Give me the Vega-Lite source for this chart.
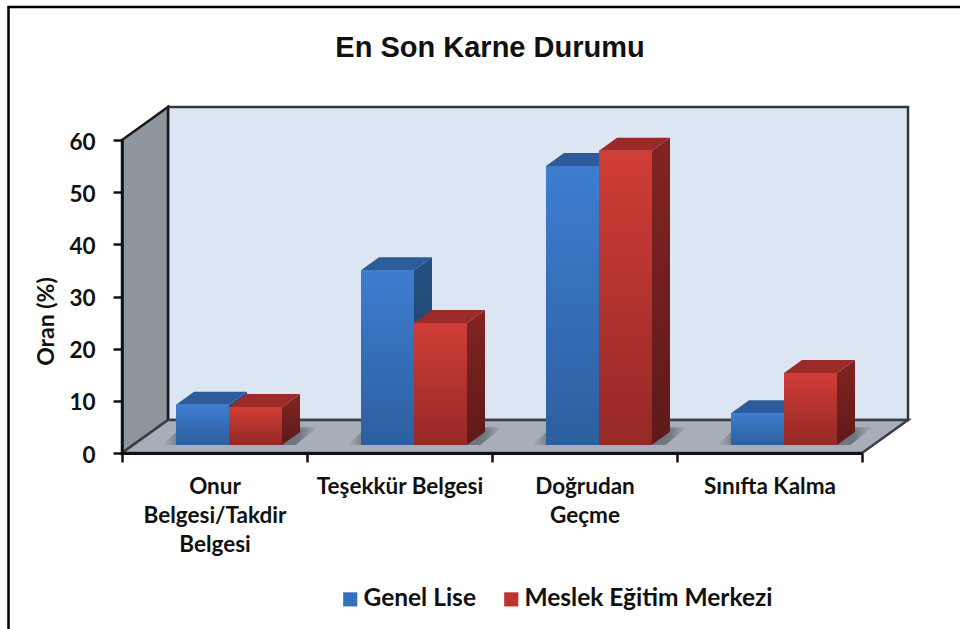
{
"$schema":"https://vega.github.io/schema/vega-lite/v6.json",
"width":740,"height":313,
"autosize":{"type":"none"},
"padding":{"left":122,"top":140,"right":98,"bottom":176},
"background":"#ffffff",
"title":{"text":"En Son Karne Durumu","font":"Liberation Sans","fontWeight":"bold","fontSize":29,"color":"#111111","anchor":"middle","offset":-61,"dx":-2},
"config":{"view":{"stroke":null}},
"datasets":{
"oranlar":[
{"Durum":"Onur Belgesi/Takdir Belgesi","Seri":"Genel Lise","Oran":7.7,"Kod":"a1"},
{"Durum":"Onur Belgesi/Takdir Belgesi","Seri":"Meslek Eğitim Merkezi","Oran":7.3,"Kod":"a2"},
{"Durum":"Teşekkür Belgesi","Seri":"Genel Lise","Oran":33.5,"Kod":"b1"},
{"Durum":"Teşekkür Belgesi","Seri":"Meslek Eğitim Merkezi","Oran":23.4,"Kod":"b2"},
{"Durum":"Doğrudan Geçme","Seri":"Genel Lise","Oran":53.5,"Kod":"c1"},
{"Durum":"Doğrudan Geçme","Seri":"Meslek Eğitim Merkezi","Oran":56.4,"Kod":"c2"},
{"Durum":"Sınıfta Kalma","Seri":"Genel Lise","Oran":6.1,"Kod":"d1"},
{"Durum":"Sınıfta Kalma","Seri":"Meslek Eğitim Merkezi","Oran":13.8,"Kod":"d2"}
]},
"data":{"name":"oranlar"},
"encoding":{
  "x":{"field":"Durum","type":"nominal","sort":["Onur Belgesi/Takdir Belgesi","Teşekkür Belgesi","Doğrudan Geçme","Sınıfta Kalma"],"scale":{"domain":["Onur Belgesi/Takdir Belgesi","Teşekkür Belgesi","Doğrudan Geçme","Sınıfta Kalma"],"paddingInner":0,"paddingOuter":0},"axis":{"title":null,"zindex":1,"labelAngle":0,"labelFont":"Lato","labelFontWeight":"bold","labelFontSize":22.5,"labelColor":"#111111","labelPadding":13,"labelLineHeight":29,"labelLimit":0,"tickBand":"extent","tickColor":"#111111","tickWidth":2.5,"tickSize":9,"domainColor":"#111111","domainWidth":3,"labelExpr":"datum.value == 'Onur Belgesi/Takdir Belgesi' ? ['Onur','Belgesi/Takdir','Belgesi'] : datum.value == 'Doğrudan Geçme' ? ['Doğrudan','Geçme'] : datum.value"}}
},
"layer":[
{"data":{"values":[{"Yuzey":"arka","Durum":"Onur Belgesi/Takdir Belgesi"},{"Yuzey":"sol","Durum":"Onur Belgesi/Takdir Belgesi"},{"Yuzey":"taban","Durum":"Onur Belgesi/Takdir Belgesi"},{"Yuzey":"cerceve","Durum":"Onur Belgesi/Takdir Belgesi"}]},
 "mark":{"type":"point","filled":true,"size":4,"opacity":1,"strokeWidth":2.5},
 "encoding":{
  "y":{"datum":0,"type":"quantitative","scale":{"domain":[0,60],"nice":false},"axis":{"title":"Oran (%)","zindex":1,"titleFont":"Lato","titleFontWeight":"bold","titleFontSize":23,"titleColor":"#111111","titlePadding":10,"titleY":181,"values":[0,10,20,30,40,50,60],"grid":false,"labelFont":"Lato","labelFontWeight":"bold","labelFontSize":22.5,"labelColor":"#111111","labelPadding":18,"labelOffset":2,"tickColor":"#111111","tickWidth":2.5,"tickSize":9,"domainColor":"#111111","domainWidth":2.5}},
  "shape":{"field":"Yuzey","type":"nominal","legend":null,"scale":{"domain":["cerceve","arka","sol","taban"],"range":["M-206,176L-206,-446L746,-446","M-46.5,-346L693.5,-346L693.5,-33L-46.5,-33Z","M-92.5,-313L-46.5,-346L-46.5,-33L-92.5,0Z","M-92.5,0L-46.5,-33L693.5,-33L647.5,0Z"]}},
  "fill":{"field":"Yuzey","type":"nominal","legend":null,"scale":{"domain":["cerceve","arka","sol","taban"],"range":["transparent","#dce6f2","#8e959d","#a7aeb9"]}},
  "stroke":{"field":"Yuzey","type":"nominal","legend":null,"scale":{"domain":["cerceve","arka","sol","taban"],"range":["#000000","#333840","#1a1a1a","#3a3f48"]}}
 }},
{"transform":[{"filter":"datum.Seri == 'Genel Lise'"}],
 "mark":{"type":"point","size":4,"opacity":1,"strokeWidth":0,"shape":"M-52,0L-36,-15L103,-18L81,0Z","filled":true,"fill":{"x1":0,"y1":0,"x2":1,"y2":0,"gradient":"linear","stops":[{"offset":0,"color":"#a7aeb9"},{"offset":0.12,"color":"#70757e"},{"offset":0.88,"color":"#70757e"},{"offset":1,"color":"#a7aeb9"}]}},
 "encoding":{
  "y":{"datum":0,"type":"quantitative","scale":{"domain":[0,60],"nice":false,"range":[305,-8]},"axis":null}
 }},
{"transform":[{"filter":"datum.Seri == 'Genel Lise'"}],
 "mark":{"type":"point","size":4,"opacity":1,"strokeWidth":0,"filled":true,"fill":{"x1":0,"y1":0,"x2":0,"y2":1,"gradient":"linear","stops":[{"offset":0,"color":"#25507f"},{"offset":1,"color":"#1c3f6b"}]}},
 "encoding":{
  "xOffset":{"field":"Seri","type":"nominal","scale":{"domain":["Genel Lise","Meslek Eğitim Merkezi"],"range":[54,160],"paddingInner":0,"paddingOuter":0}},
  "y":{"field":"Oran","type":"quantitative","scale":{"domain":[0,60],"nice":false,"range":[305,-8]},"axis":null},
  "shape":{"field":"Kod","type":"nominal","legend":null,"scale":{"domain":["a1","b1","c1","d1"],"range":[
   "M53,0L71,-13L71,27L53,40Z","M53,0L71,-13L71,162L53,175Z","M53,0L71,-13L71,266L53,279Z","M53,0L71,-13L71,19L53,32Z"]}}
 }},
{"transform":[{"filter":"datum.Seri == 'Genel Lise'"}],
 "mark":{"type":"point","size":4,"opacity":1,"strokeWidth":0,"filled":true,"fill":"#2c5c99","shape":"M0,0L18,-13L71,-13L53,0Z"},
 "encoding":{
  "xOffset":{"field":"Seri","type":"nominal","scale":{"domain":["Genel Lise","Meslek Eğitim Merkezi"],"range":[54,160],"paddingInner":0,"paddingOuter":0}},
  "y":{"field":"Oran","type":"quantitative","scale":{"domain":[0,60],"nice":false,"range":[305,-8]},"axis":null}
 }},
{"transform":[{"filter":"datum.Seri != 'Genel Lise'"}],
 "mark":{"type":"point","size":4,"opacity":1,"strokeWidth":0,"filled":true,"fill":{"x1":0,"y1":0,"x2":0,"y2":1,"gradient":"linear","stops":[{"offset":0,"color":"#822422"},{"offset":1,"color":"#5e1a19"}]}},
 "encoding":{
  "xOffset":{"field":"Seri","type":"nominal","scale":{"domain":["Genel Lise","Meslek Eğitim Merkezi"],"range":[54,160],"paddingInner":0,"paddingOuter":0}},
  "y":{"field":"Oran","type":"quantitative","scale":{"domain":[0,60],"nice":false,"range":[305,-8]},"axis":null},
  "shape":{"field":"Kod","type":"nominal","legend":null,"scale":{"domain":["a2","b2","c2","d2"],"range":[
   "M0,0L18,-13L18,25L0,38Z","M0,0L18,-13L18,109L0,122Z","M0,0L18,-13L18,281L0,294Z","M0,0L18,-13L18,59L0,72Z"]}}
 }},
{"transform":[{"filter":"datum.Seri != 'Genel Lise'"}],
 "mark":{"type":"point","size":4,"opacity":1,"strokeWidth":0,"filled":true,"fill":"#9a2b28","shape":"M-53,0L-35,-13L18,-13L0,0Z"},
 "encoding":{
  "xOffset":{"field":"Seri","type":"nominal","scale":{"domain":["Genel Lise","Meslek Eğitim Merkezi"],"range":[54,160],"paddingInner":0,"paddingOuter":0}},
  "y":{"field":"Oran","type":"quantitative","scale":{"domain":[0,60],"nice":false,"range":[305,-8]},"axis":null}
 }},
{"mark":{"type":"bar","opacity":1},
 "encoding":{
  "xOffset":{"field":"Seri","type":"nominal","scale":{"domain":["Genel Lise","Meslek Eğitim Merkezi"],"range":[54,160],"paddingInner":0,"paddingOuter":0}},
  "y":{"field":"Oran","type":"quantitative","scale":{"domain":[0,60],"nice":false,"range":[305,-8]},"axis":null},
  "fill":{"field":"Seri","type":"nominal","title":null,"scale":{"domain":["Genel Lise","Meslek Eğitim Merkezi"],"range":["#3670bd","#bf3431"]},
   "legend":{"orient":"none","legendX":216,"legendY":447,"direction":"horizontal","symbolType":"square","symbolSize":200,"symbolStrokeWidth":0,"labelFont":"Lato","labelFontWeight":"bold","labelFontSize":24.5,"labelColor":"#111111","labelLimit":0,"columnPadding":23,"labelOffset":1}}
 }},
{"transform":[{"filter":"datum.Seri == 'Genel Lise'"}],
 "mark":{"type":"bar","opacity":1,"fill":{"x1":0,"y1":0,"x2":0,"y2":1,"gradient":"linear","stops":[{"offset":0,"color":"#3d7dd0"},{"offset":1,"color":"#2d5f9f"}]}},
 "encoding":{
  "xOffset":{"field":"Seri","type":"nominal","scale":{"domain":["Genel Lise","Meslek Eğitim Merkezi"],"range":[54,160],"paddingInner":0,"paddingOuter":0}},
  "y":{"field":"Oran","type":"quantitative","scale":{"domain":[0,60],"nice":false,"range":[305,-8]},"axis":null}
 }},
{"transform":[{"filter":"datum.Seri != 'Genel Lise'"}],
 "mark":{"type":"bar","opacity":1,"fill":{"x1":0,"y1":0,"x2":0,"y2":1,"gradient":"linear","stops":[{"offset":0,"color":"#d03d37"},{"offset":1,"color":"#952826"}]}},
 "encoding":{
  "xOffset":{"field":"Seri","type":"nominal","scale":{"domain":["Genel Lise","Meslek Eğitim Merkezi"],"range":[54,160],"paddingInner":0,"paddingOuter":0}},
  "y":{"field":"Oran","type":"quantitative","scale":{"domain":[0,60],"nice":false,"range":[305,-8]},"axis":null}
 }}
],
"resolve":{"scale":{"y":"independent","shape":"independent","fill":"independent","stroke":"independent","xOffset":"independent"}}
}
